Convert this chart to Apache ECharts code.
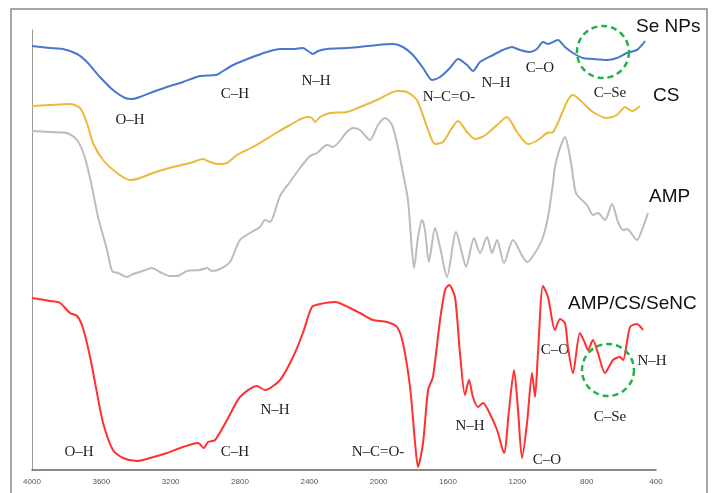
<!DOCTYPE html>
<html><head><meta charset="utf-8">
<script src="https://cdn.jsdelivr.net/npm/echarts@6/dist/echarts.min.js"></script>
<style>html,body{margin:0;padding:0;background:#fff}#c{width:718px;height:493px}</style>
</head><body><div id="c"></div>
<script>
// Wavenumber (cm-1) and transmittance (a.u., stacked offsets as in the figure)
const seWn  = [4000,3896,3821,3740,3683,3608,3533,3463,3423,3377,3319,3221,3129,3031,2938,2915,2840,2742,2644,2569,2494,2437,2408,2379,2350,2298,2183,2108,2010,1917,1860,1802,1744,1692,1646,1589,1542,1490,1456,1415,1340,1283,1231,1185,1127,1087,1052,1023,966,925,879,821,764,683,625,568,510,481,463];
const seT   = [424,422,421,416,408,393,380,372,371,373,377,383,388,394,395,397,405,412,418,421,421,422,419,416,419,421,422,423,425,426,423,415,402,390,393,402,411,405,399,408,415,420,423,420,418,421,428,426,430,423,417,412,411,410,412,417,420,425,429];

const csWn  = [4000,3896,3781,3723,3683,3648,3590,3510,3435,3377,3302,3187,3088,3013,2973,2927,2875,2817,2725,2610,2512,2413,2385,2367,2338,2281,2183,2108,2010,1894,1837,1779,1721,1675,1629,1577,1542,1490,1444,1404,1369,1317,1260,1202,1138,1081,1029,994,942,908,879,827,764,683,625,579,538,492];
const csT   = [364,365,366,362,347,327,310,297,290,292,297,303,307,311,308,306,307,315,323,335,345,353,352,348,353,357,358,363,370,379,378,370,343,326,328,342,349,338,331,333,337,345,353,338,326,330,337,338,357,370,375,368,358,352,355,363,359,364];

const ampWn = [4000,3896,3798,3740,3694,3654,3619,3567,3538,3504,3452,3417,3360,3308,3262,3204,3163,3106,3031,2990,2962,2915,2858,2800,2742,2685,2656,2627,2569,2512,2454,2396,2356,2298,2264,2183,2148,2108,2050,2004,1963,1923,1894,1860,1831,1808,1796,1773,1750,1733,1710,1675,1646,1606,1554,1514,1496,1450,1415,1375,1346,1317,1277,1225,1144,1110,1058,1023,994,983,954,925,896,867,856,798,764,735,694,654,619,590,567,510,481,446];
const ampT  = [339,338,337,330,312,283,253,220,199,197,193,196,199,202,198,194,194,199,200,202,199,201,208,230,237,243,250,248,274,288,302,314,317,325,323,338,342,340,330,345,352,345,327,297,270,220,202,233,250,240,208,242,223,193,238,213,203,232,217,233,217,230,207,230,208,214,230,253,287,303,322,333,313,280,275,265,255,257,250,266,248,240,241,230,240,257];

const ncWn  = [4000,3896,3838,3781,3740,3706,3665,3625,3590,3533,3475,3394,3319,3221,3129,3042,3008,2985,2944,2875,2800,2702,2656,2569,2494,2437,2385,2338,2252,2165,2108,2033,1952,1894,1860,1819,1790,1773,1744,1715,1687,1646,1617,1594,1560,1531,1502,1479,1456,1427,1398,1369,1317,1277,1248,1219,1196,1173,1144,1115,1098,1081,1052,1023,983,954,925,908,879,839,810,792,764,735,694,648,608,590,550,510,475];
const ncT   = [172,169,167,157,154,142,113,77,47,20,12,9,12,17,23,27,22,28,30,50,73,84,80,90,113,137,163,166,168,162,157,150,148,143,127,83,27,3,27,80,93,150,180,185,173,117,75,90,73,63,67,60,40,17,60,100,60,12,47,97,73,117,184,173,140,151,147,123,97,137,127,120,130,117,97,110,113,110,143,146,140];

const xTicks = [4000,3600,3200,2800,2400,2000,1600,1200,800,400];

const pair = (xs, ys) => xs.map((x, i) => [x, ys[i]]);

const chart = echarts.init(document.getElementById('c'));
const serifFont = '"Liberation Serif","Times New Roman",serif';
const sansFont = '"Liberation Sans",Arial,sans-serif';

function mkSeries(name, xs, ys, color) {
  return {
    name: name, type: 'line', data: pair(xs, ys), showSymbol: false,
    smooth: 0.25, lineStyle: { color: color, width: 2 }, itemStyle: { color: color },
    silent: true, animation: false
  };
}

chart.setOption({
  animation: false,
  backgroundColor: '#fff',
  grid: { left: 32, right: 62, top: 30, bottom: 23 },
  xAxis: {
    type: 'value', min: 400, max: 4000, interval: 400, inverse: true,
    axisLine: { show: true, lineStyle: { color: '#666', width: 1.5 } },
    axisTick: { show: false }, splitLine: { show: false },
    axisLabel: { fontSize: 8, color: '#555', margin: 8, fontFamily: sansFont,
      formatter: v => xTicks.includes(v) ? String(v) : '' }
  },
  yAxis: {
    type: 'value', min: 0, max: 440,
    axisLine: { show: true, lineStyle: { color: '#999', width: 1 } },
    axisTick: { show: false }, axisLabel: { show: false }, splitLine: { show: false }
  },
  series: [
    mkSeries('Se NPs', seWn, seT, '#4a76cf'),
    mkSeries('CS', csWn, csT, '#ebba3c'),
    mkSeries('AMP', ampWn, ampT, '#bcbcbc'),
    mkSeries('AMP/CS/SeNC', ncWn, ncT, '#ff3030')
  ]
});

const serifLabels = [
  ['O–H', 130, 120], ['C–H', 235, 94], ['N–H', 316, 81], ['N–C=O-', 449, 97],
  ['N–H', 496, 83], ['C–O', 540, 68], ['C–Se', 610, 93],
  ['O–H', 79, 452], ['C–H', 235, 452], ['N–H', 275, 410], ['N–C=O-', 378, 452],
  ['N–H', 470, 426], ['C–O', 547, 460], ['C–O', 555, 350], ['C–Se', 610, 417], ['N–H', 652, 361]
];
const sansLabels = [['Se NPs', 636, 27], ['CS', 653, 96], ['AMP', 649, 197], ['AMP/CS/SeNC', 568, 304]];
const circles = [[706, 418], [677, 100]];

const g = [];
g.push({ type: 'rect', shape: { x: 11, y: 9, width: 696, height: 500 },
  style: { fill: 'none', stroke: '#888', lineWidth: 1.5 }, silent: true });
serifLabels.forEach(l => g.push({ type: 'text', x: l[1], y: l[2],
  style: { text: l[0], font: '15px ' + serifFont, fill: '#222', textAlign: 'center', textVerticalAlign: 'middle' } }));
sansLabels.forEach(l => g.push({ type: 'text', x: l[1], y: l[2],
  style: { text: l[0], font: '19px ' + sansFont, fill: '#111', textAlign: 'left', textVerticalAlign: 'middle' } }));
circles.forEach(c => {
  const p = chart.convertToPixel({ gridIndex: 0 }, c);
  g.push({ type: 'circle', shape: { cx: p[0], cy: p[1], r: 26 },
    style: { fill: 'none', stroke: '#22b04a', lineWidth: 2.5, lineDash: [6, 4] }, z: 10 });
});
chart.setOption({ graphic: g });
</script></body></html>
